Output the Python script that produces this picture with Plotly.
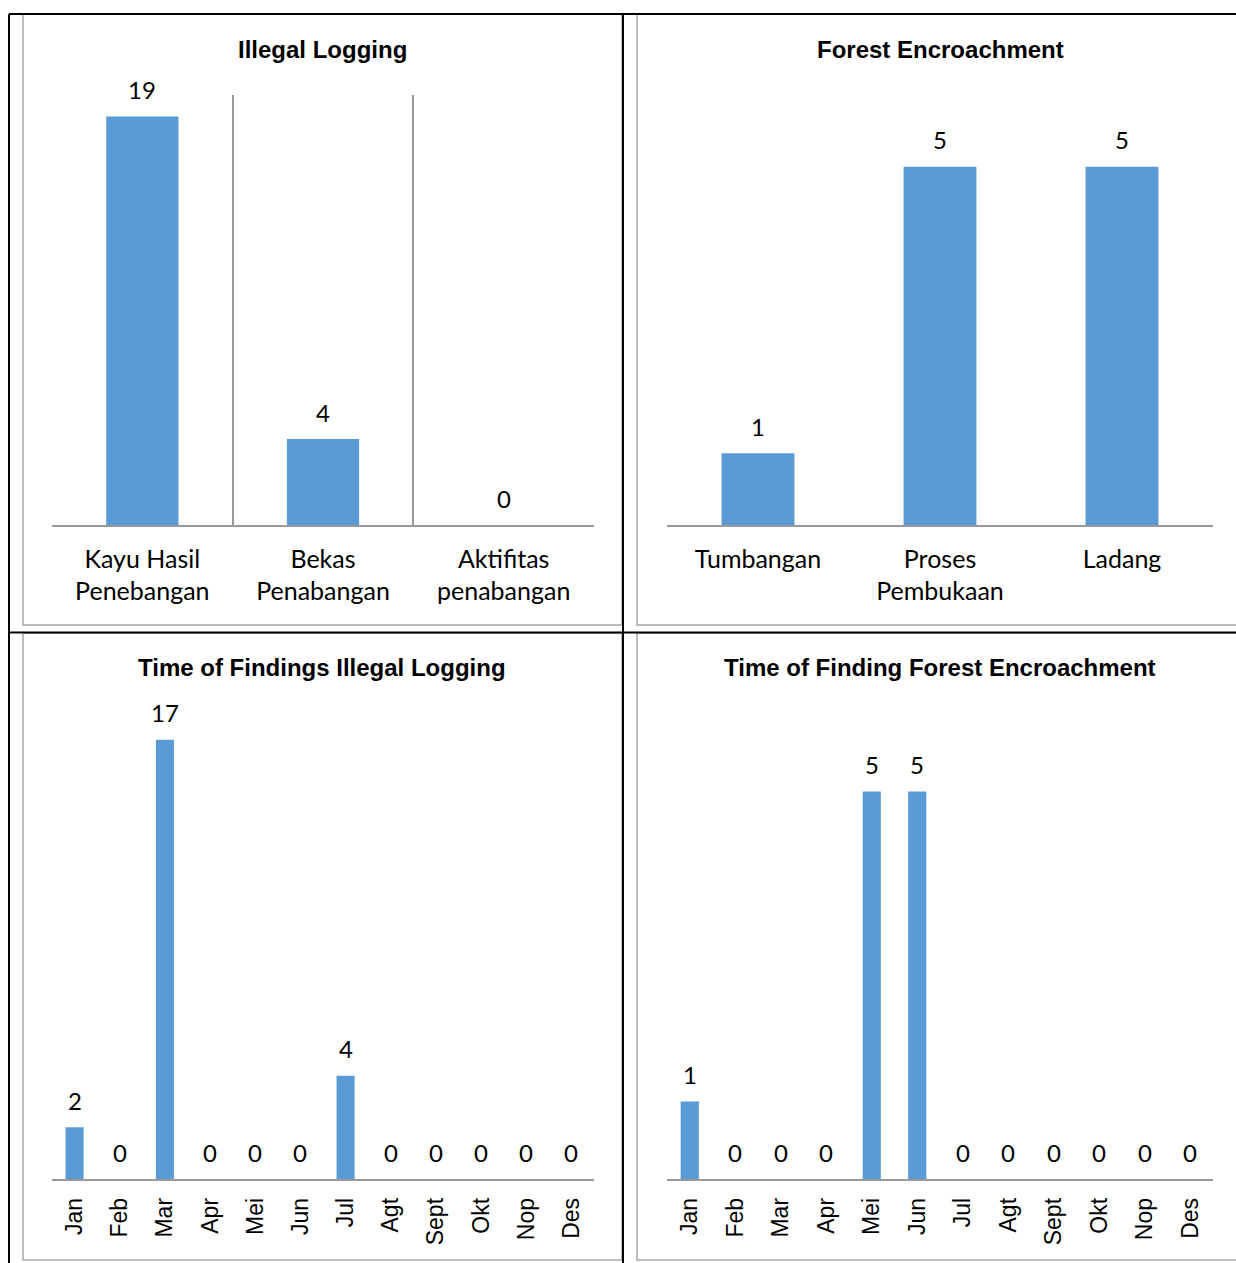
import plotly.graph_objects as go

# ---- data ----
logging_types = ["Kayu Hasil<br>Penebangan", "Bekas<br>Penabangan", "Aktifitas<br>penabangan"]
logging_counts = [19, 4, 0]

encroach_types = ["Tumbangan", "Proses<br>Pembukaan", "Ladang"]
encroach_counts = [1, 5, 5]

months = ["Jan", "Feb", "Mar", "Apr", "Mei", "Jun", "Jul", "Agt", "Sept", "Okt", "Nop", "Des"]
logging_by_month = [2, 0, 17, 0, 0, 0, 4, 0, 0, 0, 0, 0]
encroach_by_month = [1, 0, 0, 0, 5, 5, 0, 0, 0, 0, 0, 0]

titles = ["Illegal Logging", "Forest Encroachment",
          "Time of Findings Illegal Logging", "Time of Finding Forest Encroachment"]

# ---- page geometry (pixels) ----
W, H = 1236, 1263
BAR = "#5B9BD5"
AXIS = "#9a9a9a"
BORDER = "#a6a6a6"
LABEL_FONT = "Lato"
TITLE_FONT = "Liberation Sans"


def fx(px):
    return px / W


def fy(py):
    return 1 - py / H


panels = [
    # (categories, values, x-range px, y-range px (top, bottom), y max, axis suffix)
    (logging_types, logging_counts, (52, 594), (95, 525), 20, ""),
    (encroach_types, encroach_counts, (667, 1213), (95, 525), 6, "2"),
    (months, logging_by_month, (52, 594), (714, 1179), 18, "3"),
    (months, encroach_by_month, (667, 1213), (714, 1179), 6, "4"),
]
title_pos = [(322, 49), (940, 49), (322, 668), (940, 668)]

fig = go.Figure()
annotations = []
layout_axes = {}

for i, (cats, vals, (x0, x1), (ytop, ybot), ymax, sfx) in enumerate(panels):
    xa = "x" + sfx
    ya = "y" + sfx
    fig.add_trace(go.Bar(
        x=cats, y=vals, marker_color=BAR, marker_line_width=0,
        xaxis=xa, yaxis=ya, showlegend=False, hoverinfo="x+y",
    ))
    monthly = len(cats) == 12
    xaxis = dict(
        domain=[fx(x0), fx(x1)], anchor=ya, type="category",
        range=[-0.5, len(cats) - 0.5],
        showline=True, linecolor=AXIS, linewidth=1.5,
        ticks="", showgrid=(i == 0), gridcolor=AXIS, gridwidth=1.5,
        tickson="boundaries" if i == 0 else "labels",
        zeroline=False, fixedrange=True,
        tickfont=dict(family=TITLE_FONT if monthly else LABEL_FONT,
                      size=23 if monthly else 25, color="#000000"),
        tickangle=-90 if monthly else 0,
        ticklabelstandoff=8 if monthly else 11,
    )
    yaxis = dict(
        domain=[fy(ybot), fy(ytop)], anchor=xa, range=[0, ymax],
        visible=False, showgrid=False, zeroline=False, fixedrange=True,
    )
    layout_axes["xaxis" + sfx] = xaxis
    layout_axes["yaxis" + sfx] = yaxis

    # value labels above each bar, zeros included
    for c, v in zip(cats, vals):
        annotations.append(dict(
            x=c, y=v, xref=xa, yref=ya, text=str(v), showarrow=False,
            yanchor="middle", yshift=27,
            font=dict(family=LABEL_FONT, size=24, color="#000000"),
        ))

    tx, ty = title_pos[i]
    annotations.append(dict(
        x=fx(tx), y=fy(ty), xref="paper", yref="paper", text="<b>%s</b>" % titles[i],
        showarrow=False, xanchor="center", yanchor="middle",
        font=dict(family=TITLE_FONT, size=24, color="#000000"),
    ))

# panel frames and table rules
shapes = []
for (x0, y0, x1, y1) in [(23, 14, 622, 625), (637, 14, 1240, 625),
                         (23, 633, 622, 1260), (637, 633, 1240, 1260)]:
    shapes.append(dict(type="rect", xref="paper", yref="paper",
                       x0=fx(x0), x1=fx(x1), y0=fy(y1), y1=fy(y0),
                       line=dict(color=BORDER, width=1.5), layer="below"))
for (x0, y0, x1, y1) in [(9, 14, 1240, 14), (9, 14, 9, 1265),
                         (623, 14, 623, 1265), (9, 632.5, 1240, 632.5)]:
    shapes.append(dict(type="line", xref="paper", yref="paper",
                       x0=fx(x0), x1=fx(x1), y0=fy(y0), y1=fy(y1),
                       line=dict(color="#000000", width=2)))

fig.update_layout(
    width=W, height=H,
    margin=dict(l=0, r=0, t=0, b=0),
    paper_bgcolor="#ffffff", plot_bgcolor="rgba(0,0,0,0)",
    bargap=0.6,
    annotations=annotations, shapes=shapes,
    **layout_axes,
)

fig.write_html("out.html", config={"displayModeBar": False})
